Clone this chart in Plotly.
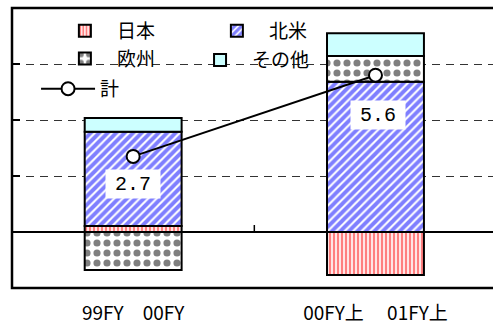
import plotly.graph_objects as go

# ---- data ----
categories = ["99FY\u300000FY", "00FY上\u3000\u00a001FY上"]
series_names = ["日本", "北米", "欧州", "その他"]
japan = [0.21, -1.54]
north_america = [3.37, 5.37]
europe = [-1.36, 0.92]
other = [0.49, 0.81]
total = [2.7, 5.6]
total_name = "計"
total_labels = ["2.7", "5.6"]

# ---- styling ----
label_yshift = [-28, -40]
label_xshift = [0, 3]
legend_of = {"日本": "legend", "北米": "legend2", "欧州": "legend", "その他": "legend4"}
FONT = "Noto Sans CJK JP, Liberation Sans, sans-serif"

patterns = {
    "日本": dict(shape="|", fgcolor="#FF0000", bgcolor="white", size=4, solidity=0.6, fillmode="overlay"),
    "北米": dict(shape="/", fgcolor="#0000FF", bgcolor="white", size=6, solidity=0.65, fillmode="overlay"),
    "欧州": dict(shape=".", fgcolor="black", bgcolor="white", size=10, solidity=0.4, fillmode="overlay"),
}

fig = go.Figure()
for name, vals in zip(series_names, [japan, north_america, europe, other]):
    marker = dict(line=dict(color="black", width=2))
    if name in patterns:
        marker["color"] = "white"
        marker["pattern"] = patterns[name]
    else:
        marker["color"] = "#CCFFFF"
    fig.add_trace(go.Bar(x=categories, y=vals, name=name, marker=marker, width=0.4,
                         legend=legend_of[name]))

fig.add_trace(go.Scatter(
    x=categories, y=total, name=total_name, mode="lines+markers", legend="legend3",
    line=dict(color="black", width=2),
    marker=dict(symbol="circle", size=13, color="white", line=dict(color="black", width=2)),
))

for cat, val, lab, ys, xs in zip(categories, total, total_labels, label_yshift, label_xshift):
    fig.add_annotation(x=cat, y=val, text=lab, showarrow=False, yshift=ys, xshift=xs,
                       bgcolor="white", width=54, height=28, borderpad=0,
                       font=dict(family="Liberation Mono, DejaVu Sans Mono, monospace", size=20, color="black"))

# white legend backdrop (between gridlines and bars)
fig.add_shape(type="rect", xref="paper", yref="paper", x0=0, x1=0.652, y0=0.67, y1=1,
              fillcolor="white", line=dict(width=0), layer="between")
# middle category tick on the zero line
fig.add_shape(type="line", xref="x", yref="y", x0=0.5, x1=0.5, ysizemode="pixel", yanchor=0,
              y0=0, y1=7, line=dict(color="black", width=1.5))
# frame
fig.add_shape(type="rect", xref="paper", yref="paper", x0=0, x1=1.03, y0=0, y1=1,
              line=dict(color="black", width=2.5), layer="above")

legend_common = dict(orientation="v", yanchor="top", xanchor="left",
                     bgcolor="rgba(0,0,0,0)", font=dict(size=19, family="Noto Sans CJK JP"),
                     itemwidth=54, traceorder="normal")

fig.update_layout(
    width=493, height=331,
    margin=dict(l=12, r=0, t=8, b=43),
    paper_bgcolor="white", plot_bgcolor="white",
    barmode="relative",
    font=dict(family=FONT, color="black"),
    showlegend=True,
    legend=dict(x=0.085, y=0.986, **legend_common),
    legend2=dict(x=0.401, y=0.986, **legend_common),
    legend3=dict(x=0.05, y=0.779, **legend_common),
    legend4=dict(x=0.366, y=0.882, **legend_common),
    xaxis=dict(range=[-0.5, 1.485], showgrid=False, zeroline=False, showline=False,
               ticks="", tickfont=dict(size=19, family=FONT), ticklabelstandoff=12),
    yaxis=dict(range=[-2, 8], dtick=2, showticklabels=False, showgrid=True,
               gridcolor="#333333", griddash="8px,6px", gridwidth=1,
               zeroline=True, zerolinecolor="black", zerolinewidth=1.5,
               ticks="inside", ticklen=8, tickcolor="black", tickwidth=1.5,
               showline=False),
)

fig.write_html("out.html")
